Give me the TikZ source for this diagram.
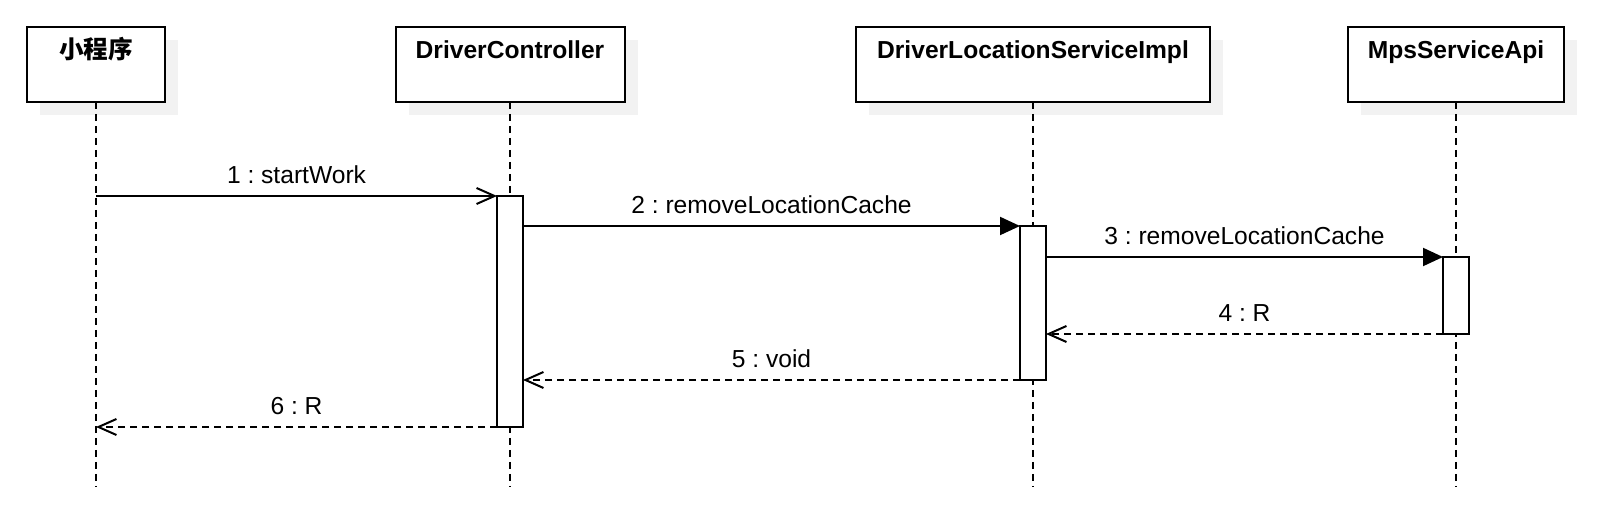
\documentclass[tikz,border=0pt]{standalone}
\usepackage{fontspec}
\setmainfont{Liberation Sans}
\newfontfamily\cjk{Noto Sans CJK SC}
\usetikzlibrary{arrows.meta,shadows,calc}
\frenchspacing
\begin{document}
\begin{tikzpicture}[x=0.5pt,y=-0.5pt,
  head/.style={draw, line width=1pt, fill=white, minimum height=37.5pt, inner sep=0pt, outer sep=0pt,
    general shadow={fill=gray!10, shadow xshift=6.5pt, shadow yshift=-6.5pt}},
  headtxt/.style={anchor=base, font=\fontsize{12.3}{14}\selectfont\bfseries, inner sep=0pt},
  life/.style={line width=1pt, dash pattern=on 3.5pt off 2.5pt},
  act/.style={draw, line width=1pt, fill=white, minimum width=13pt, inner sep=0pt, outer sep=0pt},
  call/.style={line width=1pt, -{Straight Barb[length=9pt,width=8pt]}},
  sync/.style={line width=1pt, -{Triangle[length=10pt,width=9pt]}},
  ret/.style={line width=1pt, dash pattern=on 3.5pt off 2.5pt, -{Straight Barb[length=9pt,width=8pt]}},
  lbl/.style={anchor=base, yshift=6pt, font=\fontsize{12.3}{14}\selectfont, inner sep=0pt}
]
\useasboundingbox (0,0) rectangle (1600,506);

% headers
\node[head, minimum width=69pt]    (h1) at (96,64.5)   {};
\node[head, minimum width=114.5pt] (h2) at (510,64.5)  {};
\node[head, minimum width=177pt]   (h3) at (1033,64.5) {};
\node[head, minimum width=108pt]   (h4) at (1456,64.5) {};
\node[headtxt] (t1) at (96,59)   {\cjk 小程序};
\node[headtxt] (t2) at (510,59)  {DriverController};
\node[headtxt] (t3) at (1033,59) {DriverLocationServiceImpl};
\node[headtxt] (t4) at (1456,59) {MpsServiceApi};

% lifelines
\coordinate (e1) at (96,487);
\coordinate (e2) at (510,487);
\coordinate (e3) at (1033,487);
\coordinate (e4) at (1456,487);
\draw[life] (h1.south) -- (e1);
\draw[life] (h2.south) -- (e2);
\draw[life] (h3.south) -- (e3);
\draw[life] (h4.south) -- (e4);

% activations
\node[act, minimum height=115.5pt] (a2) at (510,311.5)  {};
\node[act, minimum height=77pt]    (a3) at (1033,303)   {};
\node[act, minimum height=38.5pt]  (a4) at (1456,295.5) {};

% messages
\coordinate (m1) at (96,196);
\coordinate (m6) at (96,427);
\draw[call] (m1) -- node[lbl] {1 : startWork} (a2.north west);
\draw[sync] (a2.east |- a3.north) -- node[lbl] {2 : removeLocationCache} (a3.north west);
\draw[sync] (a3.east |- a4.north) -- node[lbl] {3 : removeLocationCache} (a4.north west);
\draw[ret] (a4.south west) -- node[lbl] {4 : R} (a3.east |- a4.south);
\draw[ret] (a3.south west) -- node[lbl] {5 : void} (a2.east |- a3.south);
\draw[ret] (a2.south west) -- node[lbl] {6 : R} (m6);
\end{tikzpicture}
\end{document}
